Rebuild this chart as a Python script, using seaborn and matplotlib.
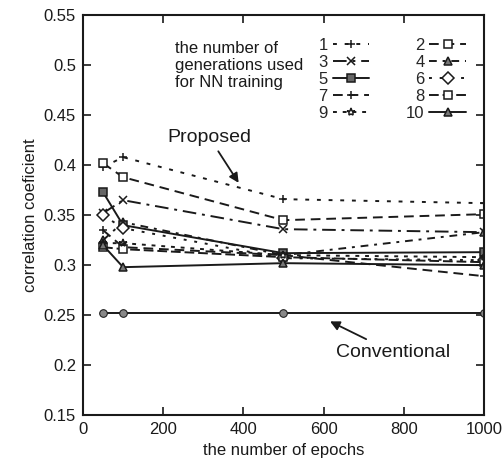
import matplotlib
matplotlib.use("Agg")
import matplotlib.pyplot as plt
import seaborn as sns
import pandas as pd

# epochs on the x axis
epochs = [50, 100, 500, 1000]

# correlation coefficient for each number of generations (proposed)
gen_labels = ["1", "2", "3", "4", "5", "6", "7", "8", "9", "10"]
s1 = [0.398, 0.408, 0.366, 0.362]
s2 = [0.402, 0.388, 0.345, 0.351]
s3 = [0.352, 0.365, 0.336, 0.333]
s4 = [0.325, 0.343, 0.310, 0.333]
s5 = [0.373, 0.340, 0.312, 0.313]
s6 = [0.350, 0.337, 0.307, 0.305]
s7 = [0.335, 0.318, 0.310, 0.289]
s8 = [0.318, 0.316, 0.308, 0.303]
s9 = [0.322, 0.322, 0.310, 0.308]
s10 = [0.320, 0.298, 0.302, 0.300]
conventional = [0.252, 0.252, 0.252, 0.252]

series = [s1, s2, s3, s4, s5, s6, s7, s8, s9, s10]
styles = [
    ((0, (2, 4)), "+", "none"),
    ((0, (5, 3)), "s", "white"),
    ((0, (7, 3, 1.5, 3)), "x", "none"),
    ((0, (4, 3, 1.5, 3)), "^", "#777777"),
    ("-", "s", "#666666"),
    ((0, (1.5, 4)), "D", "white"),
    ((0, (5, 3)), "+", "none"),
    ((0, (5, 2)), "s", "white"),
    ((0, (2, 3)), "*", "none"),
    ("-", "^", "#777777"),
]

sns.set_style("ticks")
plt.rcParams["font.family"] = ["Liberation Sans", "DejaVu Sans"]

fig = plt.figure(figsize=(5.03, 4.75), dpi=100)
ax = fig.add_axes([0.165, 0.126, 0.797, 0.842])

ink = "#1a1a1a"
handles = []
for lab, vals, (ls, mk, fc) in zip(gen_labels, series, styles):
    df = pd.DataFrame({"epochs": epochs, "r": vals})
    sns.lineplot(data=df, x="epochs", y="r", ax=ax, color=ink, linestyle=ls,
                 marker=mk, markersize=6, markerfacecolor=fc,
                 markeredgecolor=ink, markeredgewidth=1.1, linewidth=1.4)
    handles.append(ax.lines[-1])

dfc = pd.DataFrame({"epochs": epochs, "r": conventional})
sns.lineplot(data=dfc, x="epochs", y="r", ax=ax, color=ink, linestyle="-",
             marker="o", markersize=5.5, markerfacecolor="#888888",
             markeredgecolor=ink, linewidth=1.4)

ax.set_xlim(0, 1000)
ax.set_ylim(0.15, 0.55)
ax.set_xticks([0, 200, 400, 600, 800, 1000])
ax.set_yticks([0.15, 0.2, 0.25, 0.3, 0.35, 0.4, 0.45, 0.5, 0.55])
ax.set_yticklabels(["0.15", "0.2", "0.25", "0.3", "0.35", "0.4", "0.45", "0.5", "0.55"])
ax.tick_params(direction="in", top=True, right=True, length=6, width=1.2,
               labelsize=12, colors=ink, pad=5)
for sp in ax.spines.values():
    sp.set_linewidth(1.5)
    sp.set_color(ink)

ax.set_xlabel("the number of epochs", fontsize=12, color=ink)
ax.set_ylabel("correlation coeficient", fontsize=12, color=ink)

order = [0, 2, 4, 6, 8, 1, 3, 5, 7, 9]
leg = ax.legend([handles[i] for i in order], [gen_labels[i] for i in order],
                ncol=2, markerfirst=False, frameon=False, fontsize=12,
                loc="upper left", bbox_to_anchor=(0.57, 0.96),
                handlelength=2.2, handletextpad=0.3, columnspacing=2.2,
                labelspacing=0.12, borderaxespad=0)

ax.text(0.23, 0.935, "the number of\ngenerations used\nfor NN training",
        transform=ax.transAxes, fontsize=12, va="top", ha="left",
        color=ink, linespacing=1.15)

ax.annotate("Proposed", xy=(392, 0.38), xytext=(210, 0.428), fontsize=14,
            color=ink, ha="left", va="center",
            arrowprops=dict(arrowstyle="-|>", color=ink, lw=1.3))
ax.annotate("Conventional", xy=(610, 0.245), xytext=(630, 0.213), fontsize=14,
            color=ink, ha="left", va="center",
            arrowprops=dict(arrowstyle="-|>", color=ink, lw=1.3))

fig.savefig("out.png", dpi=100)
